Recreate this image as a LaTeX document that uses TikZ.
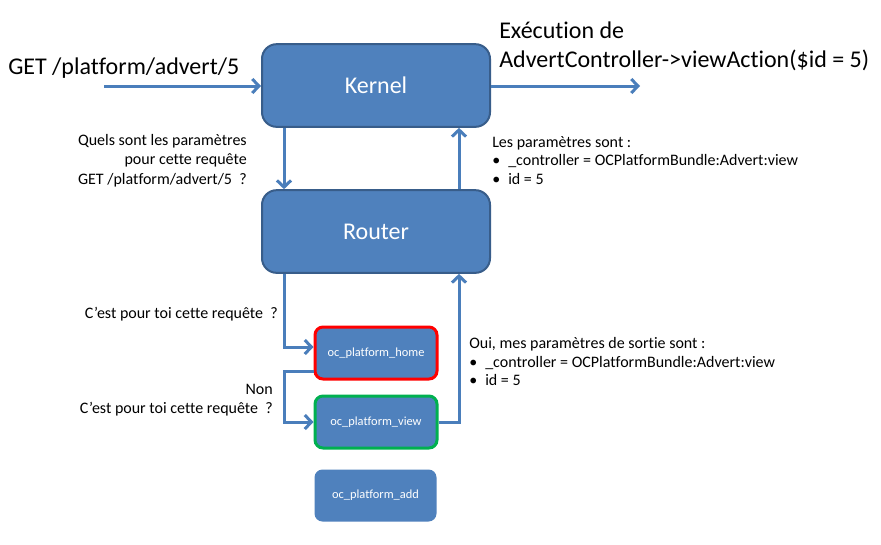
\documentclass[tikz,border=0pt]{standalone}
\usepackage{fontspec}
\setmainfont{Carlito}[Ligatures=NoCommon]
\usetikzlibrary{arrows.meta,calc}
\definecolor{boxfill}{HTML}{4F81BD}
\definecolor{boxline}{HTML}{385D8A}
\definecolor{arrowc}{HTML}{4A7EBB}
\definecolor{myred}{HTML}{FF0000}
\definecolor{mygreen}{HTML}{00B050}
\tikzset{
  bigbox/.style={draw=boxline, line width=1.5pt, fill=boxfill, rounded corners=11pt,
    minimum width=171pt, minimum height=62pt, text=white, inner sep=0pt,
    font=\fontsize{18pt}{21pt}\selectfont},
  smallbox/.style={fill=boxfill, rounded corners=6pt, minimum width=91.5pt,
    minimum height=39pt, text=white, inner sep=0pt, font=\fontsize{9.3pt}{11pt}\selectfont},
  arr/.style={draw=arrowc, line width=2.25pt, -{Straight Barb[length=5pt,width=10.5pt]}},
  bigtxt/.style={inner sep=0pt, font=\fontsize{18pt}{21pt}\selectfont},
  smalltxt/.style={inner sep=0pt, font=\fontsize{12pt}{14.4pt}\selectfont},
}
\newcommand{\bul}{\makebox[12pt][l]{•}}
\begin{document}
\begin{tikzpicture}[x=0.75pt,y=-0.75pt]
\useasboundingbox[fill=white] (0,0) rectangle (881,544);

\node[bigbox] (kernel) at (376,85.5) {Kernel};
\node[bigbox] (router) at (376,231.5) {Router};
\node[smallbox, draw=myred, line width=2.25pt] (home) at (376,353) {oc\_platform\_home};
\node[smallbox, draw=mygreen, line width=2.25pt] (view) at (376,422) {oc\_platform\_view};
\node[smallbox] (add) at (375.5,495.5) {oc\_platform\_add};

\coordinate (in) at (104,86);
\coordinate (out) at (640,86);
\coordinate (xa) at (284,0);
\coordinate (xb) at (459,0);

\draw[arr] (in) -- (in -| kernel.west);
\draw[arr] (kernel.east |- out) -- (out);
\draw[arr] (kernel.south -| xa) -- (router.north -| xa);
\draw[arr] (router.north -| xb) -- (kernel.south -| xb);
\draw[arr] (router.south -| xa) |- ($(home.west)+(0,-6)$);
\coordinate (hs) at ($(home.west)+(0,18)$);
\draw[arr] (hs) -- (hs -| xa) |- (view.west);
\draw[arr] (view.east) -| (router.south -| xb);

\node[bigtxt, anchor=base west] (get) at (8,74) {GET /platform/advert/5};
\node[bigtxt, anchor=base west] (exec1) at (499,38) {Exécution de};
\node[bigtxt, anchor=base west] (exec2) at (499,67) {AdvertController->viewAction(\$id = 5)};

\node[smalltxt, anchor=base east] (q1) at (247,145) {Quels sont les paramètres};
\node[smalltxt, anchor=base east] (q2) at (247,164) {pour cette requête};
\node[smalltxt, anchor=base east] (q3) at (247,184) {GET /platform/advert/5\ \ ?};

\node[smalltxt, anchor=base west] (l1) at (492,147) {Les paramètres sont :};
\node[smalltxt, anchor=base west] (l2) at (492,165) {\bul\_controller = OCPlatformBundle:Advert:view};
\node[smalltxt, anchor=base west] (l3) at (492,184) {\bul id = 5};

\node[smalltxt, anchor=base east] (c1) at (278,318) {C’est pour toi cette requête\ \ ?};
\node[smalltxt, anchor=base east] (n1) at (273,394) {Non};
\node[smalltxt, anchor=base east] (c2) at (273,413) {C’est pour toi cette requête\ \ ?};

\node[smalltxt, anchor=base west] (o1) at (469,348) {Oui, mes paramètres de sortie sont :};
\node[smalltxt, anchor=base west] (o2) at (469,367) {\bul\_controller = OCPlatformBundle:Advert:view};
\node[smalltxt, anchor=base west] (o3) at (469,385) {\bul id = 5};
\end{tikzpicture}
\end{document}
